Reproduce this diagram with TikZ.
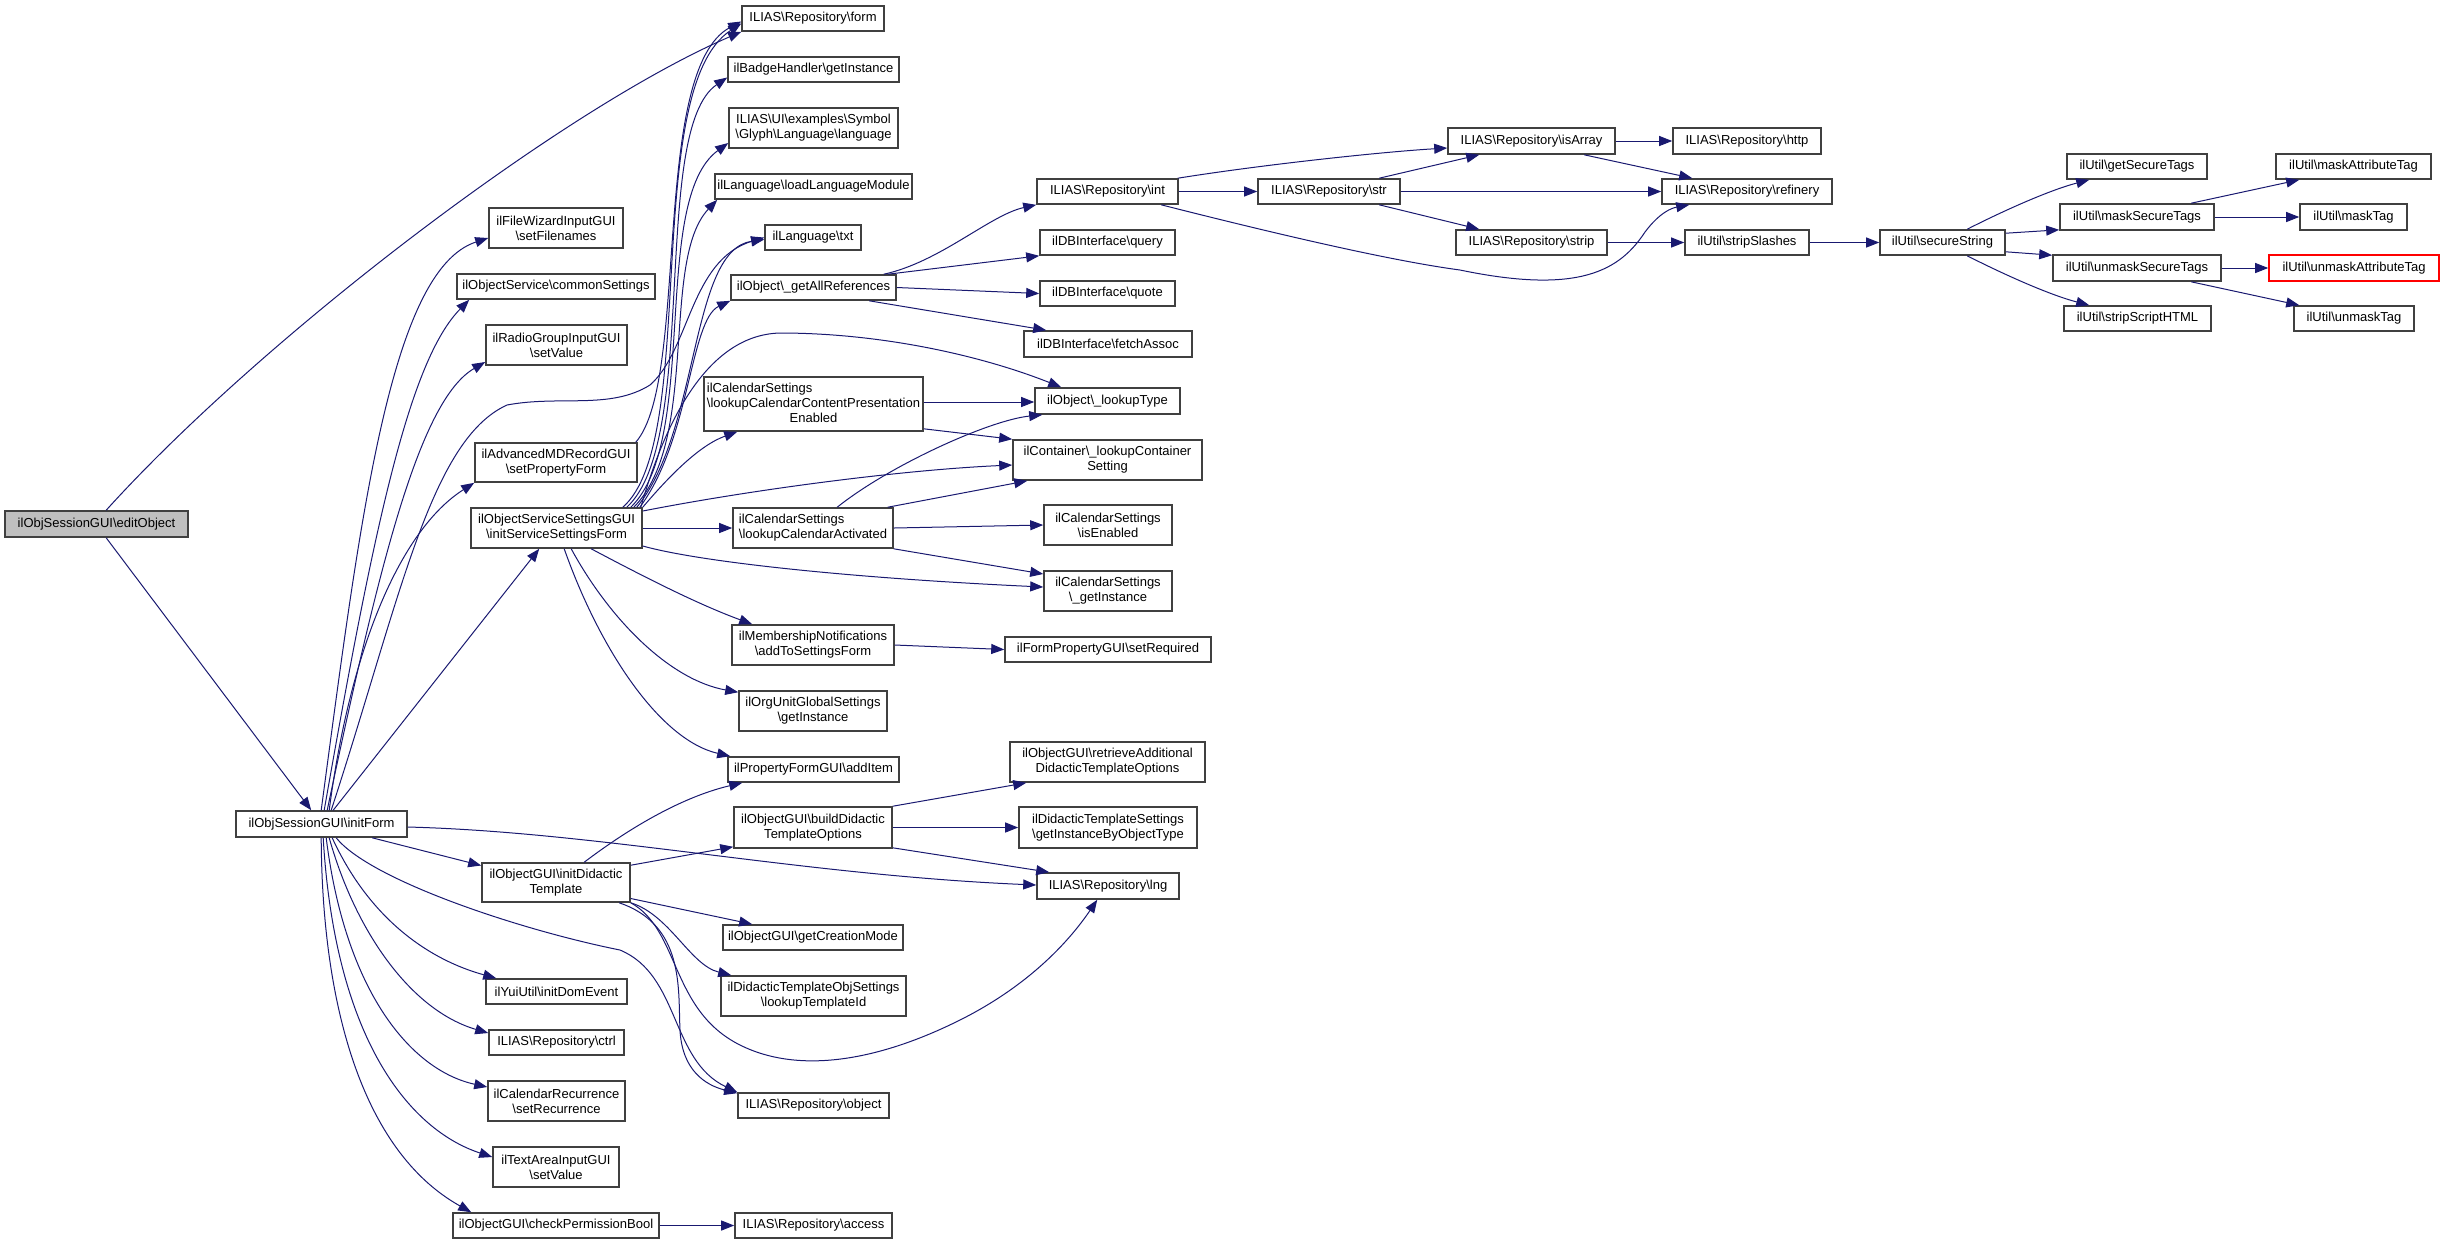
\documentclass[tikz,border=0pt]{standalone}
\usepackage{fontspec}
\setmainfont{Liberation Sans}
\usetikzlibrary{arrows.meta,calc}
\definecolor{mblue}{HTML}{191970}
\newcommand\bksl{\textbackslash}
\newcommand\nb[7][]{%
  \pgfmathsetmacro\nbw{(#5-#3)*0.5}%
  \pgfmathsetmacro\nbh{(#6-#4)*0.5}%
  \node[box,#1,minimum width=\nbw pt,minimum height=\nbh pt] (#2) at ({(#3+#5)/2},{(#4+#6)/2}) {#7};}
\begin{document}
\begin{tikzpicture}[x=0.5pt,y=-0.5pt,
  box/.style={draw=black!75, line width=0.8pt, fill=white, inner sep=0pt, align=center,
              font=\fontsize{6.5pt}{7.5pt}\selectfont},
  cl/.style={draw=mblue, line width=0.5pt, -{Triangle[length=6.5pt,width=5pt]}}]
\useasboundingbox (0,0) rectangle (2444,1244);
% ---- nodes
\nb[fill=black!25]{editObj}{5}{511}{188}{537}{ilObjSessionGUI\bksl{}editObject}
\nb{initForm}{236}{811}{407}{837}{ilObjSessionGUI\bksl{}initForm}
\nb{form}{742}{6}{884}{31}{ILIAS\bksl{}Repository\bksl{}form}
\nb{badge}{728}{57}{899}{82}{ilBadgeHandler\bksl{}getInstance}
\nb{uilang}{729}{108}{898}{148}{ILIAS\bksl{}UI\bksl{}examples\bksl{}Symbol\\\bksl{}Glyph\bksl{}Language\bksl{}language}
\nb{loadlang}{715}{174}{912}{199}{ilLanguage\bksl{}loadLanguageModule}
\nb{txt}{765}{225}{861}{250}{ilLanguage\bksl{}txt}
\nb{getall}{731}{275}{896}{300}{ilObject\bksl\_getAllReferences}
\nb{filewiz}{489}{208}{623}{248}{ilFileWizardInputGUI\\\bksl{}setFilenames}
\nb{common}{457}{274}{655}{299}{ilObjectService\bksl{}commonSettings}
\nb{radio}{486}{325}{627}{365}{ilRadioGroupInputGUI\\\bksl{}setValue}
\nb{calcontent}{704}{377}{923}{431}{\begin{tabular}{@{}l@{}}ilCalendarSettings\\\bksl{}lookupCalendarContentPresentation\\\multicolumn{1}{@{}c@{}}{Enabled}\end{tabular}}
\nb{advmd}{475}{443}{637}{482}{ilAdvancedMDRecordGUI\\\bksl{}setPropertyForm}
\nb{oss}{471}{508}{642}{548}{ilObjectServiceSettingsGUI\\\bksl{}initServiceSettingsForm}
\nb{calact}{733}{508}{893}{548}{\begin{tabular}{@{}l@{}}ilCalendarSettings\\\bksl{}lookupCalendarActivated\end{tabular}}
\nb{member}{732}{625}{894}{665}{ilMembershipNotifications\\\bksl{}addToSettingsForm}
\nb{orgunit}{739}{691}{887}{731}{ilOrgUnitGlobalSettings\\\bksl{}getInstance}
\nb{additem}{728}{757}{899}{782}{ilPropertyFormGUI\bksl{}addItem}
\nb{builddid}{734}{807}{892}{848}{ilObjectGUI\bksl{}buildDidactic\\TemplateOptions}
\nb{initdid}{482}{863}{630}{902}{ilObjectGUI\bksl{}initDidactic\\Template}
\nb{getcreation}{723}{925}{903}{950}{ilObjectGUI\bksl{}getCreationMode}
\nb{didobj}{721}{976}{906}{1016}{ilDidacticTemplateObjSettings\\\bksl{}lookupTemplateId}
\nb{yui}{486}{979}{627}{1004}{ilYuiUtil\bksl{}initDomEvent}
\nb{ctrl}{489}{1030}{624}{1055}{ILIAS\bksl{}Repository\bksl{}ctrl}
\nb{calrec}{488}{1081}{625}{1121}{ilCalendarRecurrence\\\bksl{}setRecurrence}
\nb{object}{738}{1093}{889}{1118}{ILIAS\bksl{}Repository\bksl{}object}
\nb{textarea}{493}{1147}{619}{1187}{ilTextAreaInputGUI\\\bksl{}setValue}
\nb{checkperm}{453}{1213}{659}{1238}{ilObjectGUI\bksl{}checkPermissionBool}
\nb{access}{735}{1213}{892}{1238}{ILIAS\bksl{}Repository\bksl{}access}
\nb{int}{1037}{179}{1178}{204}{ILIAS\bksl{}Repository\bksl{}int}
\nb{query}{1040}{230}{1175}{255}{ilDBInterface\bksl{}query}
\nb{quote}{1040}{281}{1175}{306}{ilDBInterface\bksl{}quote}
\nb{fetch}{1024}{331}{1192}{357}{ilDBInterface\bksl{}fetchAssoc}
\nb{lookuptype}{1035}{388}{1180}{414}{ilObject\bksl\_lookupType}
\nb{container}{1013}{440}{1202}{480}{ilContainer\bksl\_lookupContainer\\Setting}
\nb{isenabled}{1044}{505}{1172}{545}{ilCalendarSettings\\\bksl{}isEnabled}
\nb{calinst}{1044}{571}{1172}{611}{ilCalendarSettings\\\bksl\_getInstance}
\nb{setreq}{1005}{637}{1211}{662}{ilFormPropertyGUI\bksl{}setRequired}
\nb{retrieve}{1010}{742}{1205}{782}{ilObjectGUI\bksl{}retrieveAdditional\\DidacticTemplateOptions}
\nb{didset}{1019}{807}{1197}{848}{ilDidacticTemplateSettings\\\bksl{}getInstanceByObjectType}
\nb{lng}{1037}{873}{1179}{899}{ILIAS\bksl{}Repository\bksl{}lng}
\nb{str}{1258}{179}{1400}{204}{ILIAS\bksl{}Repository\bksl{}str}
\nb{isarray}{1448}{128}{1615}{154}{ILIAS\bksl{}Repository\bksl{}isArray}
\nb{strip}{1456}{230}{1607}{255}{ILIAS\bksl{}Repository\bksl{}strip}
\nb{http}{1673}{128}{1821}{154}{ILIAS\bksl{}Repository\bksl{}http}
\nb{refinery}{1662}{179}{1832}{204}{ILIAS\bksl{}Repository\bksl{}refinery}
\nb{stripsl}{1685}{230}{1809}{255}{ilUtil\bksl{}stripSlashes}
\nb{secure}{1880}{230}{2005}{255}{ilUtil\bksl{}secureString}
\nb{getsec}{2067}{154}{2207}{179}{ilUtil\bksl{}getSecureTags}
\nb{masksec}{2060}{204}{2214}{230}{ilUtil\bksl{}maskSecureTags}
\nb{unmasksec}{2053}{255}{2221}{281}{ilUtil\bksl{}unmaskSecureTags}
\nb{stripscript}{2064}{306}{2211}{331}{ilUtil\bksl{}stripScriptHTML}
\nb{maskattr}{2276}{154}{2431}{179}{ilUtil\bksl{}maskAttributeTag}
\nb{masktag}{2300}{204}{2407}{230}{ilUtil\bksl{}maskTag}
\nb[draw=red]{unmaskattr}{2269}{255}{2439}{281}{ilUtil\bksl{}unmaskAttributeTag}
\nb{unmasktag}{2294}{306}{2414}{331}{ilUtil\bksl{}unmaskTag}
% ---- edges: editObject
\draw[cl] ($(editObj.north west)+(102,0)$) .. controls (260,340) and (560,110) .. (form.south west);
\draw[cl] ($(editObj.south west)+(102,0)$) -- ($(initForm.north west)+(76,0)$);
% initForm upwards
\draw[cl] ($(initForm.north west)+(86,0)$) .. controls (360,520) and (390,270) .. ($(filewiz.west)+(0,10)$);
\draw[cl] ($(initForm.north west)+(89,0)$) .. controls (375,520) and (410,360) .. ($(common.south west)+(13,0)$);
\draw[cl] ($(initForm.north west)+(92,0)$) .. controls (380,560) and (420,400) .. ($(radio.west)+(0,17)$);
\draw[cl] ($(initForm.north west)+(96,0)$) .. controls (400,600) and (430,440) .. (507,405) .. controls (560,395) and (610,410) .. (650,385) .. controls (690,350) and (690,260) .. (txt.west);
\draw[cl] ($(initForm.north west)+(94,0)$) .. controls (350,650) and (400,530) .. (advmd.south west);
\draw[cl] ($(initForm.north west)+(98,0)$) -- ($(oss.south west)+(69,0)$);
% initForm downwards
\draw[cl] ($(initForm.south west)+(137,0)$) -- ($(initdid.west)+(0,-17)$);
\draw[cl] ($(initForm.east)+(0,3)$) .. controls (600,832) and (800,875) .. ($(lng.west)+(0,-1)$);
\draw[cl] ($(initForm.south west)+(101,0)$) .. controls (370,880) and (520,930) .. (620,950) .. controls (680,975) and (670,1060) .. (object.north west);
\draw[cl] ($(initForm.south west)+(97,0)$) .. controls (370,920) and (430,960) .. ($(yui.north west)+(11,0)$);
\draw[cl] ($(initForm.south west)+(94,0)$) .. controls (355,930) and (410,1010) .. ($(ctrl.west)+(0,-9.5)$);
\draw[cl] ($(initForm.south west)+(91,0)$) .. controls (345,990) and (410,1070) .. ($(calrec.west)+(0,-14)$);
\draw[cl] ($(initForm.south west)+(88,0)$) .. controls (335,1040) and (410,1130) .. ($(textarea.west)+(0,-10)$);
\draw[cl] ($(initForm.south west)+(86,0)$) .. controls (322,1000) and (360,1150) .. ($(checkperm.north west)+(19,0)$);
% advmd
\draw[cl] ($(advmd.north east)+(-2,0)$) .. controls (690,380) and (650,70) .. ($(form.west)+(0,3)$);
% oss bundle
\draw[cl] ($(oss.north east)+(-20,0)$) .. controls (700,440) and (640,90) .. ($(form.west)+(0,5)$);
\draw[cl] ($(oss.north east)+(-16,0)$) .. controls (700,440) and (650,130) .. ($(badge.west)+(0,8)$);
\draw[cl] ($(oss.north east)+(-12,0)$) .. controls (700,440) and (650,200) .. ($(uilang.west)+(0,15)$);
\draw[cl] ($(oss.north east)+(-9,0)$) .. controls (700,440) and (660,260) .. ($(loadlang.south west)+(3,0)$);
\draw[cl] ($(oss.north east)+(-6,0)$) .. controls (700,430) and (690,250) .. ($(txt.west)+(0,2)$);
\draw[cl] ($(oss.north east)+(-3,0)$) .. controls (690,440) and (690,320) .. (getall.south west);
\draw[cl] ($(oss.north east)+(-2,0)$) .. controls (660,440) and (700,335) .. (780,333) .. controls (880,333) and (980,355) .. ($(lookuptype.north west)+(27,0)$);
\draw[cl] (oss.north east) .. controls (670,475) and (700,445) .. ($(calcontent.south west)+(34,0)$);
\draw[cl] ($(oss.east)+(0,-17)$) .. controls (750,490) and (900,470) .. ($(container.west)+(0,5)$);
\draw[cl] (oss.east) -- (calact.west);
\draw[cl] ($(oss.east)+(0,18)$) .. controls (700,562) and (850,578) .. ($(calinst.west)+(0,-4)$);
\draw[cl] ($(oss.south west)+(121,0)$) .. controls (650,580) and (700,605) .. ($(member.north west)+(21,0)$);
\draw[cl] ($(oss.south west)+(101,0)$) .. controls (610,620) and (670,680) .. ($(orgunit.north west)+(0,2)$);
\draw[cl] ($(oss.south west)+(94,0)$) .. controls (600,650) and (660,740) .. ($(additem.north west)+(3,0)$);
% calcontent / calact
\draw[cl] ($(calcontent.east)+(0,-2)$) -- ($(lookuptype.west)+(0,1)$);
\draw[cl] ($(calcontent.south east)+(0,-3)$) -- (container.north west);
\draw[cl] ($(calact.north west)+(105,0)$) .. controls (890,465) and (990,420) .. ($(lookuptype.south west)+(8,0)$);
\draw[cl] ($(calact.north east)+(-6,0)$) -- ($(container.south west)+(15,0)$);
\draw[cl] (calact.east) -- (isenabled.west);
\draw[cl] (calact.south east) -- ($(calinst.west)+(0,-17)$);
% getall
\draw[cl] ($(getall.north east)+(-13,0)$) .. controls (940,262) and (990,215) .. (int.south west);
\draw[cl] ($(getall.north east)+(-9,0)$) -- (query.south west);
\draw[cl] (getall.east) -- (quote.west);
\draw[cl] ($(getall.south west)+(139,0)$) -- ($(fetch.north west)+(23,0)$);
% int / str / isArray
\draw[cl] ($(int.north east)+(-1,0)$) .. controls (1260,165) and (1380,152) .. ($(isarray.west)+(0,7)$);
\draw[cl] (int.east) -- (str.west);
\draw[cl] ($(int.south west)+(125,0)$) .. controls (1300,240) and (1400,262) .. (1460,270) .. controls (1580,295) and (1620,270) .. (1645,232) .. controls (1660,212) and (1672,208) .. ($(refinery.south west)+(28,0)$);
\draw[cl] ($(str.north west)+(122,0)$) -- ($(isarray.south west)+(32,0)$);
\draw[cl] (str.east) -- (refinery.west);
\draw[cl] ($(str.south west)+(122,0)$) -- ($(strip.north west)+(24,0)$);
\draw[cl] (isarray.east) -- (http.west);
\draw[cl] ($(isarray.south west)+(137,0)$) -- ($(refinery.north west)+(31,0)$);
\draw[cl] (strip.east) -- (stripsl.west);
\draw[cl] (stripsl.east) -- (secure.west);
% secureString
\draw[cl] ($(secure.north west)+(88,0)$) .. controls (2005,210) and (2050,190) .. ($(getsec.south west)+(23,0)$);
\draw[cl] ($(secure.north east)+(0,4)$) -- ($(masksec.south west)+(0,-1)$);
\draw[cl] ($(secure.south east)+(0,-4)$) -- ($(unmasksec.north west)+(0,1)$);
\draw[cl] ($(secure.south west)+(88,0)$) .. controls (2005,275) and (2050,295) .. ($(stripscript.north west)+(26,0)$);
\draw[cl] ($(masksec.north west)+(132,0)$) -- ($(maskattr.south west)+(24,0)$);
\draw[cl] (masksec.east) -- (masktag.west);
\draw[cl] (unmasksec.east) -- (unmaskattr.west);
\draw[cl] ($(unmasksec.south west)+(139,0)$) -- ($(unmasktag.north west)+(6,0)$);
% membership
\draw[cl] (member.east) -- (setreq.west);
% buildDidactic
\draw[cl] (builddid.north east) -- ($(retrieve.south west)+(17,0)$);
\draw[cl] (builddid.east) -- (didset.west);
\draw[cl] ($(builddid.south east)+(0,-1)$) -- ($(lng.north west)+(13,0)$);
% initDidactic
\draw[cl] ($(initdid.north west)+(103,0)$) .. controls (640,820) and (690,795) .. ($(additem.south west)+(15,0)$);
\draw[cl] ($(initdid.north east)+(0,3)$) -- ($(builddid.south west)+(0,-2)$);
\draw[cl] ($(initdid.east)+(0,16)$) -- ($(getcreation.north west)+(30,0)$);
\draw[cl] (initdid.south east) .. controls (670,915) and (690,965) .. ($(didobj.north west)+(11,0)$);
\draw[cl] ($(initdid.south west)+(138,0)$) .. controls (685,925) and (678,990) .. (680,1030) .. controls (682,1070) and (705,1085) .. ($(object.north west)+(0,1)$);
\draw[cl] (initdid.south east) .. controls (680,930) and (670,1010) .. (740,1045) .. controls (800,1075) and (880,1060) .. (960,1020) .. controls (1030,985) and (1070,940) .. ($(lng.south west)+(61,0)$);
% checkPermission
\draw[cl] (checkperm.east) -- (access.west);
\end{tikzpicture}
\end{document}
